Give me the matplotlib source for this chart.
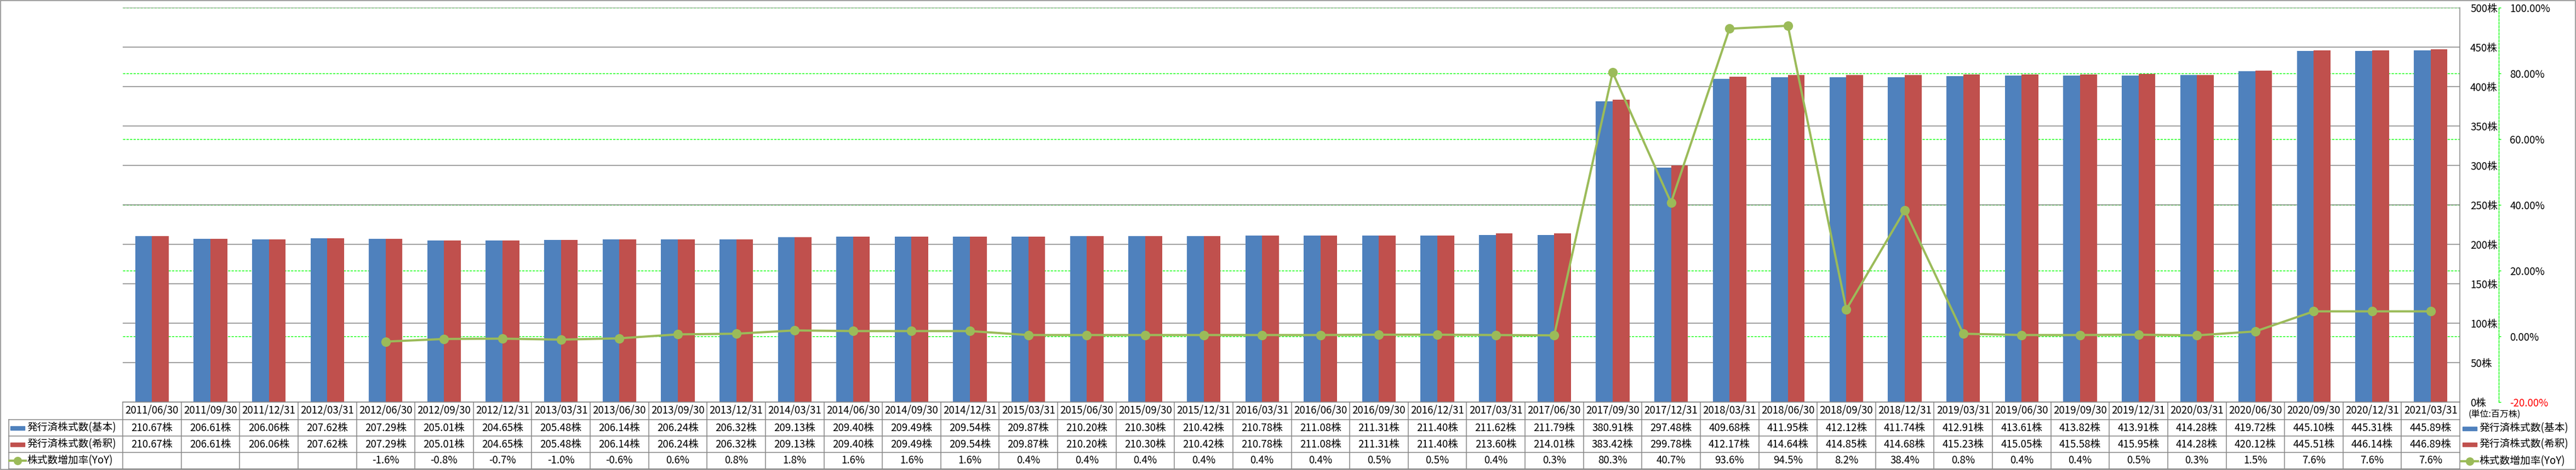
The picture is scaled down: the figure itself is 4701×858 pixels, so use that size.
import matplotlib.pyplot as plt
import numpy as np
from matplotlib.lines import Line2D
from matplotlib.patches import Rectangle
from matplotlib.ticker import FixedLocator, FuncFormatter
from matplotlib.transforms import blended_transform_factory

plt.rcParams['font.family'] = ['Noto Sans CJK JP', 'DejaVu Sans']

dates = ['2011/06/30', '2011/09/30', '2011/12/31', '2012/03/31', '2012/06/30', '2012/09/30',
         '2012/12/31', '2013/03/31', '2013/06/30', '2013/09/30', '2013/12/31', '2014/03/31',
         '2014/06/30', '2014/09/30', '2014/12/31', '2015/03/31', '2015/06/30', '2015/09/30',
         '2015/12/31', '2016/03/31', '2016/06/30', '2016/09/30', '2016/12/31', '2017/03/31',
         '2017/06/30', '2017/09/30', '2017/12/31', '2018/03/31', '2018/06/30', '2018/09/30',
         '2018/12/31', '2019/03/31', '2019/06/30', '2019/09/30', '2019/12/31', '2020/03/31',
         '2020/06/30', '2020/09/30', '2020/12/31', '2021/03/31']
basic = [210.67, 206.61, 206.06, 207.62, 207.29, 205.01, 204.65, 205.48, 206.14, 206.24,
         206.32, 209.13, 209.40, 209.49, 209.54, 209.87, 210.20, 210.30, 210.42, 210.78,
         211.08, 211.31, 211.40, 211.62, 211.79, 380.91, 297.48, 409.68, 411.95, 412.12,
         411.74, 412.91, 413.61, 413.82, 413.91, 414.28, 419.72, 445.10, 445.31, 445.89]
diluted = [210.67, 206.61, 206.06, 207.62, 207.29, 205.01, 204.65, 205.48, 206.14, 206.24,
           206.32, 209.13, 209.40, 209.49, 209.54, 209.87, 210.20, 210.30, 210.42, 210.78,
           211.08, 211.31, 211.40, 213.60, 214.01, 383.42, 299.78, 412.17, 414.64, 414.85,
           414.68, 415.23, 415.05, 415.58, 415.95, 414.28, 420.12, 445.51, 446.14, 446.89]
yoy = [None, None, None, None, -1.6, -0.8, -0.7, -1.0, -0.6, 0.6,
       0.8, 1.8, 1.6, 1.6, 1.6, 0.4, 0.4, 0.4, 0.4, 0.4,
       0.4, 0.5, 0.5, 0.4, 0.3, 80.3, 40.7, 93.6, 94.5, 8.2,
       38.4, 0.8, 0.4, 0.4, 0.5, 0.3, 1.5, 7.6, 7.6, 7.6]

name_basic = '発行済株式数(基本)'
name_dil = '発行済株式数(希釈)'
name_yoy = '株式数増加率(YoY)'
unit_label = '(単位:百万株)'

c_blue = '#4F81BD'
c_red = '#C0504D'
c_green = '#9BBB59'
c_grid = '#868686'
c_lime = '#00FF00'
fs = 13.5

W, H = 4701, 858
fig = plt.figure(figsize=(W / 100, H / 100), dpi=100)

# plot area in pixels
L, R, T, B = 224, 4489, 14, 734
rect = [L / W, 1 - B / H, (R - L) / W, (B - T) / H]
n = len(dates)
x = np.arange(n)
cw = (R - L) / n


def fy(y):
    return 1 - y / H


# percent gridlines (behind bars)
ax_g = fig.add_axes(rect)
ax_g.set_xlim(-0.5, n - 0.5)
ax_g.set_ylim(-20, 100)
ax_g.set_xticks([])
ax_g.yaxis.set_major_locator(FixedLocator(np.arange(-20, 101, 20)))
ax_g.yaxis.set_major_formatter(FuncFormatter(lambda v, p: '%.2f%%' % v))
ax_g.yaxis.tick_right()
ax_g.grid(axis='y', color=c_lime, linestyle=(0, (3, 1.6)), linewidth=1.0)
for s in ['left', 'top', 'bottom']:
    ax_g.spines[s].set_visible(False)
ax_g.spines['right'].set_position(('outward', 71 * 0.72))
ax_g.spines['right'].set_color(c_lime)
ax_g.spines['right'].set_linestyle((0, (3, 1.6)))
ax_g.spines['right'].set_linewidth(1.0)
ax_g.tick_params(axis='y', direction='out', length=3, width=1, color=c_lime,
                 pad=11.5, labelsize=fs)
for lab in ax_g.get_yticklabels():
    if lab.get_text().startswith('-'):
        lab.set_color('red')
ax_g.set_axisbelow(True)

# bars
ax = fig.add_axes(rect)
ax.patch.set_visible(False)
ax.set_xlim(-0.5, n - 0.5)
ax.set_ylim(0, 500)
ax.set_xticks([])
ax.yaxis.set_major_locator(FixedLocator(np.arange(0, 501, 50)))
ax.yaxis.set_major_formatter(FuncFormatter(lambda v, p: '%d株' % v))
ax.yaxis.tick_right()
ax.tick_params(axis='y', length=0, pad=13.7, labelsize=fs)
ax.grid(axis='y', color=c_grid, linewidth=1.1)
ax.set_axisbelow(True)
for s in ['left', 'top']:
    ax.spines[s].set_visible(False)
ax.spines['right'].set_color(c_grid)
ax.spines['bottom'].set_color(c_grid)
ax.spines['right'].set_linewidth(1.1)
ax.spines['bottom'].set_linewidth(1.1)
bw = 0.287
ax.bar(x - bw / 2, basic, width=bw, color=c_blue, zorder=2)
ax.bar(x + bw / 2, diluted, width=bw, color=c_red, zorder=2)

# yoy line
ax_l = fig.add_axes(rect)
ax_l.patch.set_visible(False)
ax_l.set_xlim(-0.5, n - 0.5)
ax_l.set_ylim(-20, 100)
ax_l.axis('off')
yv = np.array([np.nan if v is None else v for v in yoy])
ax_l.plot(x, yv, color=c_green, linewidth=2.9, marker='o', markersize=12.5,
          markeredgewidth=0, solid_capstyle='round')

# data table
tr = blended_transform_factory(ax.transData, fig.transFigure)
rows = [(734, 766), (766, 796), (796, 826), (826, 856)]
yc = [(a + b) / 2 for a, b in rows]


def line_px(x0, y0, x1, y1):
    fig.add_artist(Line2D([x0 / W, x1 / W], [fy(y0), fy(y1)], color=c_grid,
                          linewidth=1.1, transform=fig.transFigure))


line_px(16, 766, R, 766)
line_px(16, 796, R, 796)
line_px(16, 826, R, 826)
line_px(16, 856, R, 856)
line_px(16, 766, 16, 856)
for i in range(n + 1):
    line_px(L + i * cw, 734, L + i * cw, 856)

for i in range(n):
    fig.text(x[i], fy(yc[0]), dates[i], transform=tr, ha='center', va='center', fontsize=fs)
    fig.text(x[i], fy(yc[1]), '%.2f株' % basic[i], transform=tr, ha='center', va='center', fontsize=fs)
    fig.text(x[i], fy(yc[2]), '%.2f株' % diluted[i], transform=tr, ha='center', va='center', fontsize=fs)
    if yoy[i] is not None:
        fig.text(x[i], fy(yc[3]), '%.1f%%' % yoy[i], transform=tr, ha='center', va='center', fontsize=fs)


def legend_item(x0, y, kind, label):
    if kind == 'line':
        fig.add_artist(Line2D([x0 / W, (x0 + 30) / W], [fy(y), fy(y)], color=c_green,
                              linewidth=2.9, transform=fig.transFigure))
        fig.add_artist(Line2D([(x0 + 15) / W], [fy(y)], color=c_green, marker='o',
                              markersize=11, markeredgewidth=0, transform=fig.transFigure))
    else:
        fig.add_artist(Rectangle(((x0 + 2) / W, fy(y + 3.5)), 26 / W, 7 / H, color=kind,
                                 transform=fig.transFigure))
    fig.text((x0 + 32) / W, fy(y), label, ha='left', va='center', fontsize=fs)


legend_item(17, yc[1], c_blue, name_basic)
legend_item(17, yc[2], c_red, name_dil)
legend_item(17, yc[3], 'line', name_yoy)

fig.text(4505 / W, fy(757), unit_label, ha='left', va='center', fontsize=11.5)
legend_item(4492, 782, c_blue, name_basic)
legend_item(4492, 811, c_red, name_dil)
legend_item(4492, 842, 'line', name_yoy)

# chart border
fig.add_artist(Rectangle((0.7 / W, fy(857.3)), 4699.5 / W, 856 / H, fill=False,
                         edgecolor=c_grid, linewidth=1.1, transform=fig.transFigure))

fig.savefig('out.png', dpi=100)
